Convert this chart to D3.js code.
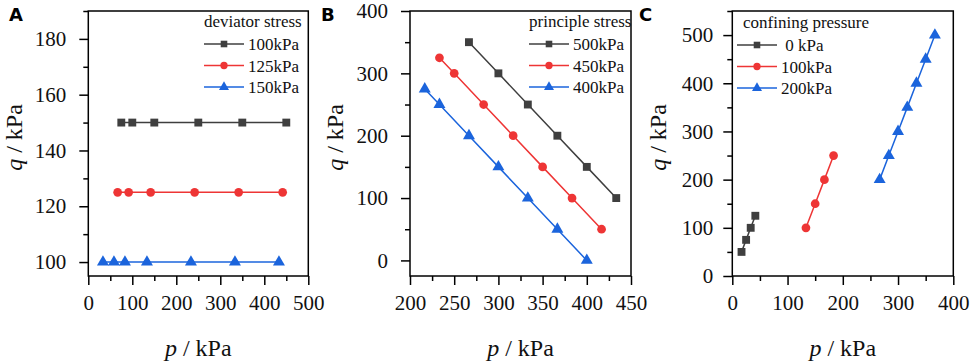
<!DOCTYPE html>
<html>
<head>
<meta charset="utf-8">
<script src="https://cdn.jsdelivr.net/npm/d3@7"></script>
<style>
  body { margin: 0; background: #fff; }
</style>
</head>
<body>
<div id="chart"></div>
<script>
// panel A: deviator stress
const aNames = ["100kPa", "125kPa", "150kPa"];
const aP1 = [75, 100, 150, 250, 350, 450];
const aQ1 = [150, 150, 150, 150, 150, 150];
const aP2 = [66.7, 91.7, 141.7, 241.7, 341.7, 441.7];
const aQ2 = [125, 125, 125, 125, 125, 125];
const aP3 = [33.3, 58.3, 83.3, 133.3, 233.3, 333.3, 433.3];
const aQ3 = [100, 100, 100, 100, 100, 100, 100];

// panel B: principle stress
const bNames = ["500kPa", "450kPa", "400kPa"];
const bP1 = [266.7, 300, 333.3, 366.7, 400, 433.3];
const bQ1 = [350, 300, 250, 200, 150, 100];
const bP2 = [233.3, 250, 283.3, 316.7, 350, 383.3, 416.7];
const bQ2 = [325, 300, 250, 200, 150, 100, 50];
const bP3 = [216.7, 233.3, 266.7, 300, 333.3, 366.7, 400];
const bQ3 = [275, 250, 200, 150, 100, 50, 0];

// panel C: confining pressure
const cNames = [" 0 kPa", "100kPa", "200kPa"];
const cP1 = [16.7, 25, 33.3, 41.7];
const cQ1 = [50, 75, 100, 125];
const cP2 = [133.3, 150, 166.7, 183.3];
const cQ2 = [100, 150, 200, 250];
const cP3 = [266.7, 283.3, 300, 316.7, 333.3, 350, 366.7];
const cQ3 = [200, 250, 300, 350, 400, 450, 500];

const colors = ["#3f3f3f", "#ee3535", "#1b64dc"];
const shapes = [d3.symbolSquare, d3.symbolCircle, d3.symbolTriangle];
const sizes = [62, 60, 62];
const SERIF = "'Liberation Serif', 'Times New Roman', serif";

const svg = d3.select("#chart").append("svg")
    .attr("width", 972).attr("height", 363);

function panel(cfg) {
    const g = svg.append("g");
    const x = d3.scaleLinear().domain(cfg.xDom).range([cfg.left, cfg.right]);
    const y = d3.scaleLinear().domain(cfg.yDom).range([cfg.bottom, cfg.top]);

    // minor ticks
    g.append("g").attr("transform", `translate(0,${cfg.bottom})`)
        .call(d3.axisBottom(x).tickValues(cfg.xMinor).tickSize(5).tickFormat(""))
        .call(a => a.select(".domain").remove());
    g.append("g").attr("transform", `translate(${cfg.left},0)`)
        .call(d3.axisLeft(y).tickValues(cfg.yMinor).tickSize(5).tickFormat(""))
        .call(a => a.select(".domain").remove());

    // major ticks
    const xa = g.append("g").attr("transform", `translate(0,${cfg.bottom})`)
        .call(d3.axisBottom(x).tickValues(cfg.xTicks).tickSize(9).tickPadding(10));
    const ya = g.append("g").attr("transform", `translate(${cfg.left},0)`)
        .call(d3.axisLeft(y).tickValues(cfg.yTicks).tickSize(9).tickPadding(cfg.yPad));
    [xa, ya].forEach(a => {
        a.select(".domain").remove();
        a.attr("font-family", null).attr("font-size", null);
        a.selectAll("text").style("font-size", "21px").style("font-family", SERIF)
            .attr("fill", "#111");
    });
    xa.selectAll("text").attr("dy", "0.72em");
    g.selectAll(".tick line").attr("stroke", "#000").attr("stroke-width", 1.5);

    // frame
    g.append("rect")
        .attr("x", cfg.left).attr("y", cfg.top)
        .attr("width", cfg.right - cfg.left).attr("height", cfg.bottom - cfg.top)
        .attr("fill", "none").attr("stroke", "#000").attr("stroke-width", 1.5);

    // series
    cfg.series.forEach((s, i) => {
        const pts = s.p.map((v, j) => [v, s.q[j]]);
        g.append("path")
            .attr("d", d3.line().x(d => x(d[0])).y(d => y(d[1]))(pts))
            .attr("fill", "none").attr("stroke", colors[i]).attr("stroke-width", 1.5);
        g.selectAll(null).data(pts).enter().append("path")
            .attr("transform", d => `translate(${x(d[0])},${y(d[1])})`)
            .attr("d", d3.symbol().type(shapes[i]).size(sizes[i]))
            .attr("fill", colors[i]);
    });

    // legend
    const lg = g.append("g");
    lg.append("text")
        .attr("x", cfg.legX).attr("y", cfg.legY)
        .style("font-size", "17px").style("font-family", SERIF).attr("fill", "#111")
        .text(cfg.legTitle);
    cfg.names.forEach((n, i) => {
        const yy = cfg.legY + 17 + i * 21.5;
        const lx = cfg.legX - cfg.legIndent;
        lg.append("line")
            .attr("x1", lx).attr("x2", lx + 40)
            .attr("y1", yy).attr("y2", yy)
            .attr("stroke", colors[i]).attr("stroke-width", 1.5);
        lg.append("path")
            .attr("transform", `translate(${lx + 20},${yy})`)
            .attr("d", d3.symbol().type(shapes[i]).size(sizes[i] * 0.7))
            .attr("fill", colors[i]);
        lg.append("text")
            .attr("x", lx + 44).attr("y", yy + 6)
            .style("font-size", "17px").style("font-family", SERIF).attr("fill", "#111")
            .style("white-space", "pre")
            .text(n);
    });

    // axis titles
    const xt = g.append("text")
        .attr("x", (cfg.left + cfg.right) / 2).attr("y", 356)
        .attr("text-anchor", "middle")
        .style("font-size", "24px").style("font-family", SERIF).attr("fill", "#111");
    xt.append("tspan").style("font-style", "italic").text("p");
    xt.append("tspan").text(" / kPa");
    const yt = g.append("text")
        .attr("transform", `translate(${cfg.yTitleX},${(cfg.top + cfg.bottom) / 2 - 6}) rotate(-90)`)
        .attr("text-anchor", "middle")
        .style("font-size", "24px").style("font-family", SERIF).attr("fill", "#111");
    yt.append("tspan").style("font-style", "italic").text("q");
    yt.append("tspan").text(" / kPa");

    // panel letter
    g.append("text")
        .attr("x", cfg.letterX).attr("y", 21)
        .style("font-family", "'DejaVu Sans', Arial, sans-serif").style("font-weight", "bold")
        .style("font-size", "18px").attr("fill", "#000")
        .text(cfg.letter);
}

panel({
    letter: "A", letterX: 9,
    left: 88.3, right: 308.3, top: 11, bottom: 276,
    xDom: [0, 500], yDom: [95, 190],
    xTicks: d3.range(0, 501, 100), xMinor: d3.range(50, 500, 100),
    yTicks: d3.range(100, 181, 20), yMinor: d3.range(110, 191, 20),
    yPad: 13, yTitleX: 22,
    legTitle: "deviator stress", legX: 204, legIndent: 0, legY: 27,
    names: aNames,
    series: [{p: aP1, q: aQ1}, {p: aP2, q: aQ2}, {p: aP3, q: aQ3}]
});

panel({
    letter: "B", letterX: 321,
    left: 410, right: 631, top: 11, bottom: 276,
    xDom: [200, 450], yDom: [-25, 400],
    xTicks: d3.range(200, 451, 50), xMinor: d3.range(225, 450, 50),
    yTicks: d3.range(0, 401, 100), yMinor: d3.range(50, 400, 100),
    yPad: 13, yTitleX: 343,
    legTitle: "principle stress", legX: 529, legIndent: 0, legY: 27,
    names: bNames,
    series: [{p: bP1, q: bQ1}, {p: bP2, q: bQ2}, {p: bP3, q: bQ3}]
});

panel({
    letter: "C", letterX: 639,
    left: 732.3, right: 953.3, top: 11, bottom: 276,
    xDom: [0, 400], yDom: [0, 550],
    xTicks: d3.range(0, 401, 100), xMinor: d3.range(50, 400, 100),
    yTicks: d3.range(0, 501, 100), yMinor: d3.range(50, 551, 100),
    yPad: 10, yTitleX: 666,
    legTitle: "confining pressure", legX: 743, legIndent: 6, legY: 28,
    names: cNames,
    series: [{p: cP1, q: cQ1}, {p: cP2, q: cQ2}, {p: cP3, q: cQ3}]
});
</script>
</body>
</html>
